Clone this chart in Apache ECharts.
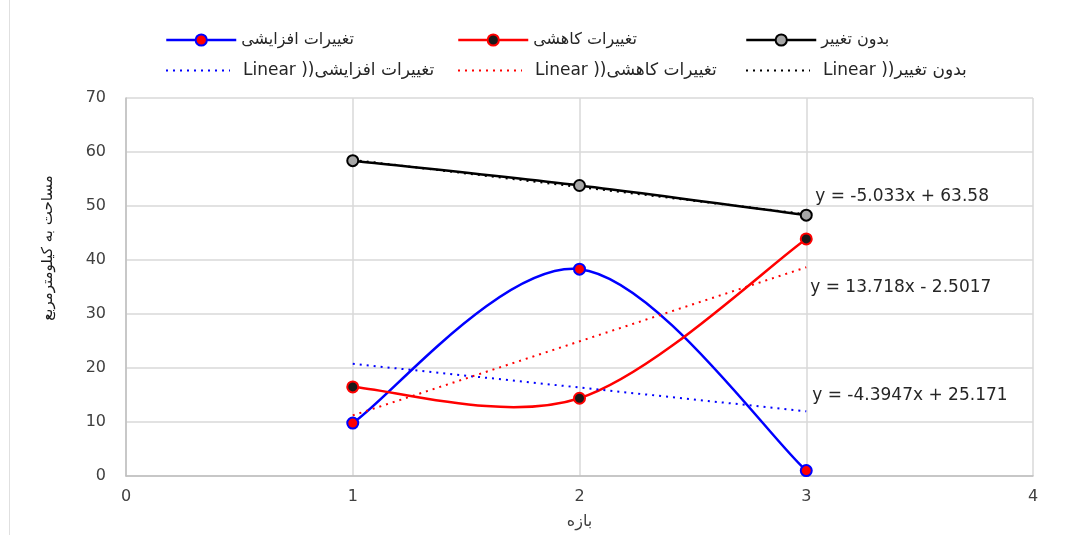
<!DOCTYPE html>
<html><head><meta charset="utf-8">
<script src="https://cdn.jsdelivr.net/npm/echarts@6/dist/echarts.min.js"></script>
<style>html,body{margin:0;padding:0;background:#fff}#c{width:1082px;height:535px}</style>
</head><body><div id="c"></div>
<script>
const xValues = [1, 2, 3];
const increaseValues = [9.8, 38.3, 1.0];
const decreaseValues = [16.5, 14.4, 43.9];
const noChangeValues = [58.4, 53.8, 48.3];
const trendX = [1, 3];
const increaseTrend = [20.78, 11.99];
const decreaseTrend = [11.22, 38.65];
const noChangeTrend = [58.55, 48.48];
const seriesNames = ['تغییرات افزایشی', 'تغییرات کاهشی', 'بدون تغییر'];
const trendNames = ['Linear ))تغییرات افزایشی', 'Linear ))تغییرات کاهشی', 'Linear ))بدون تغییر'];
const equations = ['y = -4.3947x + 25.171', 'y = 13.718x - 2.5017', 'y = -5.033x + 63.58'];
const yTicks = [0, 10, 20, 30, 40, 50, 60, 70];
const xTicks = [0, 1, 2, 3, 4];
const yTitle = 'مساحت به کیلومترمربع';
const xTitle = 'بازه';

const FONT = 'DejaVu Sans';
const pairs = (xs, ys) => xs.map((x, i) => [x, ys[i]]);

const colors = ['#0000ff', '#ff0000', '#000000'];
const fills = ['#ff0000', '#1a1a1a', '#a6a6a6'];
const mainData = [increaseValues, decreaseValues, noChangeValues];
const trendData = [increaseTrend, decreaseTrend, noChangeTrend];
const eqOffsets = [[6, -16], [4, 20], [9, -18]];

// Smooth curve in the style of a spreadsheet smoothed line (Bezier, tangent = (next - prev) / 6)
function smoothRenderer(values, color) {
  return function (params, api) {
    const i = params.dataIndex;
    if (i >= values.length - 1) return null;
    const P = values.map((v, k) => api.coord([xValues[k], v]));
    const p0 = P[Math.max(i - 1, 0)], p1 = P[i], p2 = P[i + 1], p3 = P[Math.min(i + 2, P.length - 1)];
    return {
      type: 'bezierCurve',
      shape: {
        x1: p1[0], y1: p1[1], x2: p2[0], y2: p2[1],
        cpx1: p1[0] + (p2[0] - p0[0]) / 6, cpy1: p1[1] + (p2[1] - p0[1]) / 6,
        cpx2: p2[0] - (p3[0] - p1[0]) / 6, cpy2: p2[1] - (p3[1] - p1[1]) / 6
      },
      style: { stroke: color, lineWidth: 2.5, fill: null, lineCap: 'round' }
    };
  };
}

const series = [];
mainData.forEach((d, i) => {
  series.push({
    name: 'curve' + i, type: 'custom', data: pairs(xValues, d),
    renderItem: smoothRenderer(d, colors[i]), z: 2, silent: true
  });
  series.push({
    name: seriesNames[i], type: 'line', data: pairs(xValues, d),
    lineStyle: { color: colors[i], width: 2.5, opacity: 0 },
    itemStyle: { color: fills[i], borderColor: colors[i], borderWidth: 2 },
    symbol: 'circle', symbolSize: 11, z: 4
  });
});
trendData.forEach((d, i) => {
  series.push({
    name: trendNames[i], type: 'line', data: pairs(trendX, d),
    lineStyle: { color: colors[i], width: 2, type: [2, 5] },
    itemStyle: { color: colors[i] },
    symbol: 'none', z: 3,
    endLabel: {
      show: true, formatter: equations[i], color: '#262626', fontFamily: FONT, fontSize: 17,
      offset: eqOffsets[i], distance: 0
    }
  });
});

const legendLefts = [160, 452, 740];
const legends = [];
seriesNames.forEach((n, i) => legends.push({
  data: [n], left: legendLefts[i], top: 27, itemWidth: 70, itemHeight: 14, itemGap: 5,
  lineStyle: { color: colors[i], width: 2.5, opacity: 1, type: 'solid' },
  textStyle: { fontFamily: FONT, fontSize: 16, color: '#262626' }
}));
trendNames.forEach((n, i) => legends.push({
  data: [n], left: legendLefts[i], top: 57, itemWidth: 64, itemHeight: 14, itemGap: 9,
  itemStyle: { opacity: 0 },
  textStyle: { fontFamily: FONT, fontSize: 17, color: '#262626', padding: [0, 0, 0, 8] }
}));

const chart = echarts.init(document.getElementById('c'));
chart.setOption({
  animation: false,
  backgroundColor: '#fff',
  legend: legends,
  grid: { left: 126, right: 49, top: 98, bottom: 59 },
  xAxis: {
    type: 'value', min: xTicks[0], max: xTicks[xTicks.length - 1], interval: 1,
    axisLine: { lineStyle: { color: '#bfbfbf', width: 1.5 } },
    axisTick: { show: false },
    splitLine: { show: true, lineStyle: { color: '#d9d9d9', width: 1.5 } },
    axisLabel: { fontFamily: FONT, fontSize: 16, color: '#404040', margin: 13 },
    name: xTitle, nameLocation: 'middle', nameGap: 38,
    nameTextStyle: { fontFamily: FONT, fontSize: 16, color: '#404040' }
  },
  yAxis: {
    type: 'value', min: yTicks[0], max: yTicks[yTicks.length - 1], interval: 10,
    axisLine: { show: true, lineStyle: { color: '#bfbfbf', width: 1.5 } },
    axisTick: { show: false },
    splitLine: { show: true, lineStyle: { color: '#d9d9d9', width: 1.5 } },
    axisLabel: { fontFamily: FONT, fontSize: 16, color: '#404040', margin: 20 }
  },
  graphic: [
    { type: 'text', x: 48, y: 248, rotation: Math.PI / 2,
      style: { text: yTitle, fontFamily: FONT, fontSize: 15, fill: '#1a1a1a', align: 'center', verticalAlign: 'middle' } },
    { type: 'line', shape: { x1: 9.5, y1: 0, x2: 9.5, y2: 535 }, style: { stroke: '#e0e0e0', lineWidth: 1 } }
  ],
  series: series
});
</script></body></html>
